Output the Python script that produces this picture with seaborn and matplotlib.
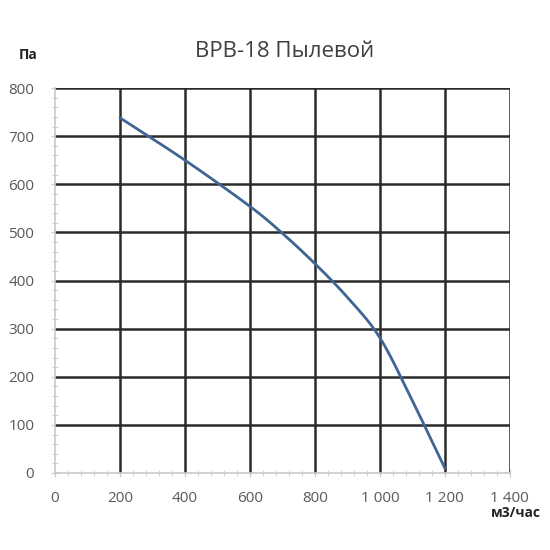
import numpy as np
import pandas as pd
import seaborn as sns
import matplotlib.pyplot as plt
from matplotlib.ticker import MultipleLocator, FuncFormatter

# Fan curve
flow = [200, 400, 600, 700, 800, 900, 1000, 1100, 1200]
pressure = [738, 650, 554, 498, 435, 365, 281, 150, 10]
x_ticks = [0, 200, 400, 600, 800, 1000, 1200, 1400]
y_ticks = [0, 100, 200, 300, 400, 500, 600, 700, 800]


def catmull_rom(xp, yp, n=30):
    # smooth line through the points, like a spreadsheet chart
    pts = np.column_stack([xp, yp]).astype(float)
    pts = np.vstack([2 * pts[0] - pts[1], pts, 2 * pts[-1] - pts[-2]])
    out = []
    t = np.linspace(0, 1, n, endpoint=False)[:, None]
    for i in range(1, len(pts) - 2):
        p0, p1, p2, p3 = pts[i - 1], pts[i], pts[i + 1], pts[i + 2]
        seg = 0.5 * ((2 * p1) + (-p0 + p2) * t + (2 * p0 - 5 * p1 + 4 * p2 - p3) * t ** 2
                     + (-p0 + 3 * p1 - 3 * p2 + p3) * t ** 3)
        out.append(seg)
    out.append(pts[-2][None, :])
    out = np.vstack(out)
    return out[:, 0], out[:, 1]


xs, ys = catmull_rom(flow, pressure)
df = pd.DataFrame({'flow': xs, 'pressure': ys})

sns.set_style('white')
plt.rcParams['font.family'] = ['Open Sans', 'DejaVu Sans']

fig = plt.figure(figsize=(5.5, 5.5), dpi=100)
ax = fig.add_axes([0.1, 0.14, 0.827, 0.7])

sns.lineplot(data=df, x='flow', y='pressure', ax=ax, color='#3f6593',
             linewidth=2, sort=False, estimator=None)

ax.set_xlim(0, 1400)
ax.set_ylim(0, 800)
ax.set_xticks(x_ticks)
ax.set_yticks(y_ticks)
ax.xaxis.set_minor_locator(MultipleLocator(40))
ax.yaxis.set_minor_locator(MultipleLocator(20))
ax.xaxis.set_major_formatter(FuncFormatter(lambda v, p: f'{int(v):,}'.replace(',', ' ')))

for v in x_ticks[1:]:
    ax.axvline(v, color='#2b2b2b', linewidth=1.8, zorder=1)
for v in y_ticks[1:]:
    ax.axhline(v, color='#2b2b2b', linewidth=1.8, zorder=1)

for s in ['top', 'right']:
    ax.spines[s].set_visible(False)
for s in ['left', 'bottom']:
    ax.spines[s].set_color('#c8c8c8')
    ax.spines[s].set_linewidth(1.2)

ax.tick_params(which='major', direction='inout', length=6, color='#c8c8c8',
               labelcolor='#595959', labelsize=11)
ax.tick_params(axis='y', which='major', pad=12)
ax.tick_params(axis='x', which='major', pad=10)
ax.tick_params(which='minor', direction='inout', length=5, color='#c8c8c8')
ax.tick_params(axis='both', which='both', left=True, bottom=True)

ax.set_xlabel('')
ax.set_ylabel('')
fig.text(0.517, 0.907, 'ВРВ-18 Пылевой', ha='center', va='center', fontsize=16, color='#404040')
fig.text(0.052, 0.9, 'Па', ha='center', va='center', fontsize=10, fontweight='bold', color='#222222')
fig.text(0.893, 0.068, 'м3/час', ha='left', va='center', fontsize=10, fontweight='bold', color='#222222')

fig.savefig('out.png', dpi=100)
